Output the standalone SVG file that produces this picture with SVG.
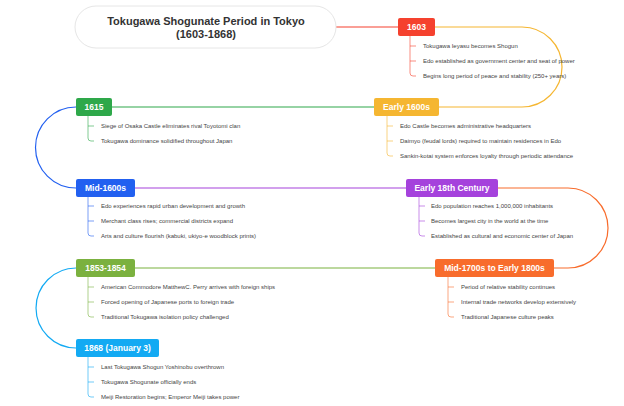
<svg xmlns="http://www.w3.org/2000/svg" width="624" height="406" viewBox="0 0 624 406">
<style>
.bg{fill:#ffffff}
.title{fill:#ffffff;stroke:#e6e6e6;stroke-width:1}
.tt{font-family:"Liberation Sans",Arial,sans-serif;font-size:11px;font-weight:bold;fill:#333333;text-anchor:middle}
.nl{font-family:"Liberation Sans",Arial,sans-serif;font-size:8.5px;font-weight:bold;fill:#ffffff;text-anchor:middle;dominant-baseline:central}
.ct{font-family:"Liberation Sans",Arial,sans-serif;font-size:6px;fill:#444444;dominant-baseline:central}
.main{fill:none;stroke-width:1.2}
.br{fill:none;stroke-width:0.8;stroke-opacity:0.75}
</style>
<rect class="bg" x="0" y="0" width="624" height="406"/>
<g id="connectors">
<path class="main" stroke="#F5412E" d="M336,27 H398"/>
<path class="main" stroke="#F5B631" d="M435,27 H522 A40,40 0 0 1 522,107 H439"/>
<path class="main" stroke="#2EA84A" d="M112,107 H374"/>
<path class="main" stroke="#2260F0" d="M76,107 A40.5,40.5 0 0 0 76,188"/>
<path class="main" stroke="#A542DC" d="M135,188 H406"/>
<path class="main" stroke="#F86C2C" d="M498,188 H568 A40,40 0 0 1 568,268 H554"/>
<path class="main" stroke="#7BB13F" d="M135,268 H435"/>
<path class="main" stroke="#13AAF3" d="M76,268 A40,40 0 0 0 76,348"/>
</g>
<g id="title">
<rect class="title" x="75" y="6" width="261" height="42" rx="21"/>
<text class="tt" x="206" y="25">Tokugawa Shogunate Period in Tokyo</text>
<text class="tt" x="206" y="38">(1603-1868)</text>
</g>
<g id="n1603">
<rect x="398" y="18" width="37" height="18" rx="2" fill="#F5412E"/>
<text class="nl" x="416.5" y="27">1603</text>
<path class="br" stroke="#F5412E" d="M410,36 V73 Q410,76 413,76 H416 M410,46 H416 M410,61 H416"/>
<text class="ct" x="423" y="46">Tokugawa Ieyasu becomes Shogun</text>
<text class="ct" x="423" y="61">Edo established as government center and seat of power</text>
<text class="ct" x="423" y="76">Begins long period of peace and stability (250+ years)</text>
</g>
<g id="nEarly1600s">
<rect x="374" y="98" width="65" height="18" rx="2" fill="#F5B631"/>
<text class="nl" x="406.5" y="107">Early 1600s</text>
<path class="br" stroke="#F5B631" d="M387,116 V153 Q387,156 390,156 H393 M387,126 H393 M387,141 H393"/>
<text class="ct" x="400" y="126">Edo Castle becomes administrative headquarters</text>
<text class="ct" x="400" y="141">Daimyo (feudal lords) required to maintain residences in Edo</text>
<text class="ct" x="400" y="156">Sankin-kotai system enforces loyalty through periodic attendance</text>
</g>
<g id="n1615">
<rect x="76" y="98" width="36" height="18" rx="2" fill="#2EA84A"/>
<text class="nl" x="94" y="107">1615</text>
<path class="br" stroke="#2EA84A" d="M88,116 V138 Q88,141 91,141 H94 M88,126 H94"/>
<text class="ct" x="101" y="126">Siege of Osaka Castle eliminates rival Toyotomi clan</text>
<text class="ct" x="101" y="141">Tokugawa dominance solidified throughout Japan</text>
</g>
<g id="nMid1600s">
<rect x="76" y="179" width="59" height="18" rx="2" fill="#2260F0"/>
<text class="nl" x="105.5" y="188">Mid-1600s</text>
<path class="br" stroke="#2260F0" d="M88,197 V233 Q88,236 91,236 H94 M88,206 H94 M88,221 H94"/>
<text class="ct" x="101" y="206">Edo experiences rapid urban development and growth</text>
<text class="ct" x="101" y="221">Merchant class rises; commercial districts expand</text>
<text class="ct" x="101" y="236">Arts and culture flourish (kabuki, ukiyo-e woodblock prints)</text>
</g>
<g id="nEarly18th">
<rect x="406" y="179" width="92" height="18" rx="2" fill="#A542DC"/>
<text class="nl" x="452" y="188">Early 18th Century</text>
<path class="br" stroke="#A542DC" d="M419,197 V233 Q419,236 422,236 H425 M419,206 H425 M419,221 H425"/>
<text class="ct" x="431" y="206">Edo population reaches 1,000,000 inhabitants</text>
<text class="ct" x="431" y="221">Becomes largest city in the world at the time</text>
<text class="ct" x="431" y="236">Established as cultural and economic center of Japan</text>
</g>
<g id="nMid1700s">
<rect x="435" y="259" width="119" height="18" rx="2" fill="#F86C2C"/>
<text class="nl" x="494.5" y="268">Mid-1700s to Early 1800s</text>
<path class="br" stroke="#F86C2C" d="M448,277 V314 Q448,317 451,317 H454 M448,287 H454 M448,302 H454"/>
<text class="ct" x="461" y="287">Period of relative stability continues</text>
<text class="ct" x="461" y="302">Internal trade networks develop extensively</text>
<text class="ct" x="461" y="317">Traditional Japanese culture peaks</text>
</g>
<g id="n1853">
<rect x="76" y="259" width="59" height="18" rx="2" fill="#7BB13F"/>
<text class="nl" x="105.5" y="268">1853-1854</text>
<path class="br" stroke="#7BB13F" d="M88,277 V314 Q88,317 91,317 H94 M88,287 H94 M88,302 H94"/>
<text class="ct" x="101" y="287">American Commodore MatthewC. Perry arrives with foreign ships</text>
<text class="ct" x="101" y="302">Forced opening of Japanese ports to foreign trade</text>
<text class="ct" x="101" y="317">Traditional Tokugawa isolation policy challenged</text>
</g>
<g id="n1868">
<rect x="76" y="339" width="83" height="18" rx="2" fill="#13AAF3"/>
<text class="nl" x="117.5" y="348">1868 (January 3)</text>
<path class="br" stroke="#13AAF3" d="M88,357 V394 Q88,397 91,397 H94 M88,367 H94 M88,382 H94"/>
<text class="ct" x="101" y="367">Last Tokugawa Shogun Yoshinobu overthrown</text>
<text class="ct" x="101" y="382">Tokugawa Shogunate officially ends</text>
<text class="ct" x="101" y="397">Meiji Restoration begins; Emperor Meiji takes power</text>
</g>
</svg>
